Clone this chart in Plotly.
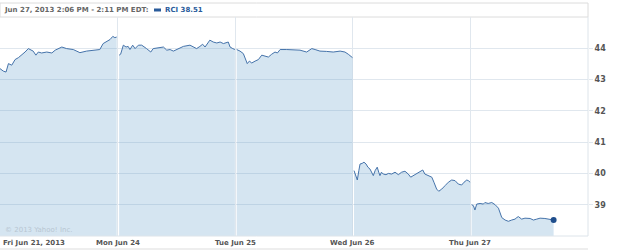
import plotly.graph_objects as go

# Minutes after the 9:30 open for each trading day, and the RCI price
fri_min = [0, 11, 20, 28, 39, 50, 61, 72, 83, 94, 99, 110, 119, 127, 138, 155, 172, 183, 205, 221, 243, 265, 287, 321, 331, 342, 354, 365, 374, 381, 387]
fri_val = [43.35, 43.27, 43.24, 43.51, 43.46, 43.64, 43.70, 43.78, 43.88, 43.99, 43.96, 43.91, 43.78, 43.88, 43.85, 43.88, 43.85, 43.94, 44.04, 43.99, 43.96, 43.86, 43.91, 43.94, 43.96, 44.15, 44.23, 44.28, 44.38, 44.34, 44.36]

mon_min = [5, 10, 19, 28, 35, 41, 50, 58, 69, 80, 96, 110, 118, 141, 152, 163, 174, 185, 201, 218, 240, 262, 273, 282, 290, 306, 317, 329, 340, 351, 367, 373, 382, 389]
mon_val = [43.78, 43.81, 44.10, 44.04, 44.06, 43.96, 44.10, 43.99, 44.10, 44.10, 43.99, 43.88, 43.99, 44.04, 44.04, 43.94, 43.96, 43.91, 43.99, 44.06, 44.10, 43.99, 44.06, 44.13, 44.04, 44.26, 44.20, 44.17, 44.20, 44.15, 44.20, 44.04, 43.99, 43.96]

tue_min = [5, 16, 27, 36, 40, 47, 55, 66, 77, 88, 99, 110, 121, 132, 140, 149, 171, 193, 215, 237, 254, 265, 281, 303, 325, 348, 364, 375, 389]
tue_val = [43.96, 43.91, 43.83, 43.62, 43.51, 43.59, 43.53, 43.59, 43.64, 43.78, 43.74, 43.72, 43.81, 43.88, 43.85, 43.96, 43.96, 43.96, 43.94, 43.88, 43.99, 43.96, 43.91, 43.90, 43.88, 43.91, 43.88, 43.81, 43.70]

wed_min = [4, 11, 15, 20, 24, 31, 37, 44, 50, 57, 63, 68, 74, 81, 86, 90, 95, 101, 110, 118, 129, 140, 151, 162, 173, 184, 192, 201, 212, 223, 232, 239, 250, 262, 269, 278, 285, 295, 306, 317, 328, 339, 350, 361, 369, 378, 383, 389]
wed_val = [40.09, 39.88, 39.79, 40.09, 40.30, 40.32, 40.36, 40.30, 40.20, 40.14, 40.04, 39.93, 40.09, 40.20, 40.04, 39.93, 40.04, 39.98, 39.96, 40.00, 39.98, 40.04, 39.96, 40.04, 40.07, 39.98, 39.88, 39.93, 40.00, 40.04, 40.11, 39.98, 39.93, 39.88, 39.72, 39.50, 39.43, 39.50, 39.61, 39.72, 39.79, 39.77, 39.66, 39.63, 39.72, 39.79, 39.77, 39.72]

thu_min = [4, 10, 15, 21, 32, 43, 48, 59, 71, 82, 93, 98, 104, 115, 126, 137, 148, 154, 159, 170, 181, 198, 209, 220, 231, 247, 258, 268, 276]
thu_val = [39.00, 38.97, 38.83, 39.02, 39.04, 39.02, 39.07, 39.04, 39.07, 39.00, 38.89, 38.75, 38.59, 38.51, 38.47, 38.51, 38.54, 38.59, 38.62, 38.54, 38.57, 38.56, 38.51, 38.54, 38.57, 38.56, 38.55, 38.53, 38.51]

day_labels = ["Fri Jun 21, 2013", "Mon Jun 24", "Tue Jun 25", "Wed Jun 26", "Thu Jun 27"]
y_ticks = [39, 40, 41, 42, 43, 44]
session_minutes = 390
header_text = "Jun 27, 2013 2:06 PM - 2:11 PM EDT:"
legend_text = "RCI 38.51"

days = [(fri_min, fri_val), (mon_min, mon_val), (tue_min, tue_val), (wed_min, wed_val), (thu_min, thu_val)]

LINE = "#4573aa"
FILL = "rgba(100,160,205,0.27)"
GRID = "#e0e7ee"
TXT = "#555555"
FONT = "DejaVu Sans"

fig = go.Figure()
for d, (mins, vals) in enumerate(days):
    xs = [d + m / session_minutes for m in mins]
    fig.add_trace(go.Scatter(x=xs, y=vals, mode="lines", fill="tozeroy",
                             fillcolor=FILL, line=dict(color=LINE, width=1),
                             hoverinfo="skip", showlegend=False))

# last point marker
fig.add_trace(go.Scatter(x=[4 + thu_min[-1] / session_minutes], y=[thu_val[-1]],
                         mode="markers", marker=dict(color="#1f4e8c", size=6),
                         showlegend=False, hoverinfo="skip"))

H = 219.0  # plot height in px
def py(px_from_top_of_plot):
    return 1 - px_from_top_of_plot / H

annotations = []
for i, lab in enumerate(day_labels):
    annotations.append(dict(x=i if i else 0.005, y=py(243 - 17), xref="x", yref="paper",
                            text=lab, showarrow=False,
                            xanchor="left" if i == 0 else "center", yanchor="middle",
                            font=dict(family=FONT, size=7, color=TXT, weight="bold")))
annotations.append(dict(x=0, y=py(10 - 17), xref="paper", yref="paper", xshift=2,
                        text=header_text, showarrow=False, xanchor="left", yanchor="middle",
                        font=dict(family=FONT, size=7, color="#666666", weight="bold")))
annotations.append(dict(x=163 / 588, y=py(10 - 17), xref="paper", yref="paper",
                        text=legend_text, showarrow=False, xanchor="left", yanchor="middle",
                        font=dict(family=FONT, size=7, color="#2a5b9b", weight="bold")))
annotations.append(dict(x=0, y=py(230 - 17), xref="paper", yref="paper", xshift=3,
                        text="© 2013 Yahoo! Inc.", showarrow=False, xanchor="left", yanchor="middle",
                        font=dict(family=FONT, size=7, color="#b8c6d2")))

shapes = [
    # header box
    dict(type="rect", xref="paper", yref="paper", x0=0, x1=1, y0=1, y1=py(3 - 17),
         line=dict(color="#dcdcdc", width=1), fillcolor="white", layer="below"),
    # legend swatch
    dict(type="line", xref="paper", yref="paper", x0=154 / 588, x1=161 / 588,
         y0=py(10 - 17), y1=py(10 - 17), line=dict(color="#2a5b9b", width=3)),
    # right and bottom frame
    dict(type="line", xref="paper", yref="paper", x0=1, x1=1, y0=0, y1=1,
         line=dict(color="#dde4ea", width=1)),
    dict(type="line", xref="paper", yref="paper", x0=0, x1=1, y0=0, y1=0,
         line=dict(color="#dde4ea", width=1)),
    dict(type="line", xref="paper", yref="paper", x0=0, x1=1, y0=py(249 - 17), y1=py(249 - 17),
         line=dict(color="#dddddd", width=1)),
]

fig.update_layout(
    width=625, height=252,
    margin=dict(l=0, r=37, t=17, b=16),
    paper_bgcolor="white", plot_bgcolor="white",
    xaxis=dict(range=[0, 5], tickvals=[0, 1, 2, 3, 4], showticklabels=False,
               showgrid=True, gridcolor=GRID, gridwidth=1, zeroline=False,
               showline=False, fixedrange=True),
    yaxis=dict(range=[38, 45], side="right", tickvals=y_ticks,
               ticktext=[str(t) for t in y_ticks],
               showgrid=True, gridcolor=GRID, gridwidth=1, zeroline=False,
               ticks="outside", ticklen=4, tickcolor=GRID,
               tickfont=dict(family=FONT, size=8, color=TXT, weight="bold"),
               showline=False, fixedrange=True),
    annotations=annotations,
    shapes=shapes,
    showlegend=False,
)

fig.write_html("out.html")
